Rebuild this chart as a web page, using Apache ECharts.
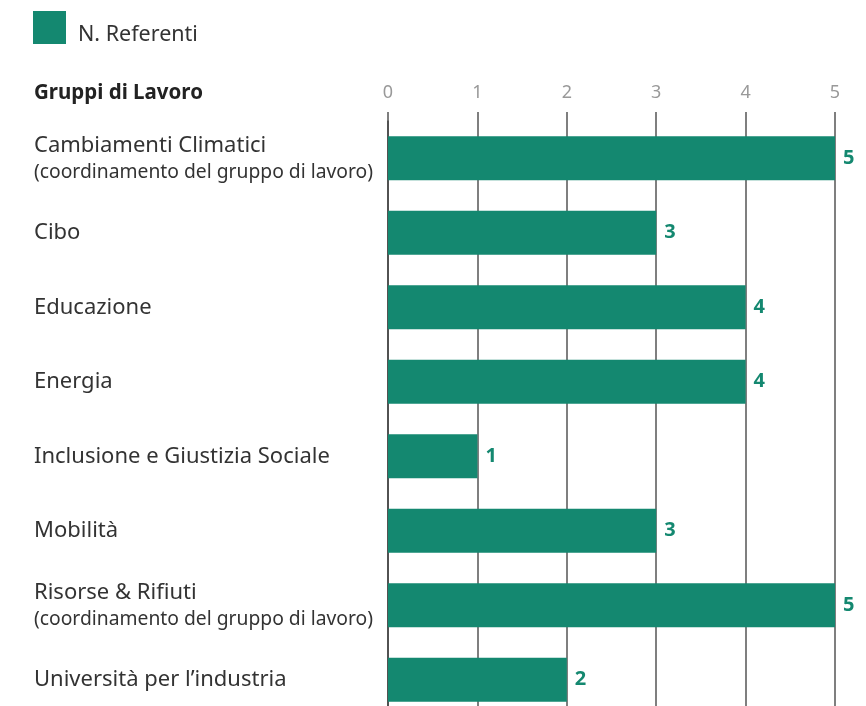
<!DOCTYPE html>
<html>
<head>
<meta charset="utf-8">
<script src="https://cdn.jsdelivr.net/npm/echarts@6/dist/echarts.min.js"></script>
<style>
  html, body { margin: 0; padding: 0; background: #fff; }
  #chart { width: 866px; height: 706px; }
</style>
</head>
<body>
<div id="chart"></div>
<script>
const groups = [
  'Cambiamenti Climatici\n(coordinamento del gruppo di lavoro)',
  'Cibo',
  'Educazione',
  'Energia',
  'Inclusione e Giustizia Sociale',
  'Mobilità',
  'Risorse & Rifiuti\n(coordinamento del gruppo di lavoro)',
  'Università per l’industria'
];
const referenti = [5, 3, 4, 4, 1, 3, 5, 2];
const ticks = [0, 1, 2, 3, 4, 5];

const green = '#148870';
const font = '"Noto Sans", sans-serif';

const chart = echarts.init(document.getElementById('chart'));

const fmtLabel = (v) => {
  const parts = v.split('\n');
  if (parts.length === 1) return '{main|' + parts[0] + '}';
  return '{main|' + parts[0] + '}\n{sub|' + parts[1] + '}';
};

chart.setOption({
  animation: false,
  textStyle: { fontFamily: font },
  legend: {
    left: 28,
    top: 6,
    itemWidth: 33,
    itemHeight: 33,
    itemGap: 10,
    icon: 'rect',
    formatter: (name) => '{a|' + name + '}',
    textStyle: {
      rich: {
        a: {
          fontSize: 21.5, color: '#333', fontFamily: font,
          lineHeight: 37, verticalAlign: 'bottom', padding: [0, 0, 0, 7]
        }
      }
    }
  },
  title: {
    text: 'Gruppi di Lavoro',
    left: 29,
    top: 78,
    textStyle: { fontSize: 20.5, fontWeight: 'bold', color: '#222', fontFamily: font }
  },
  grid: { left: 388, right: 31, top: 121, height: 596, outerBoundsMode: 'none' },
  xAxis: {
    type: 'value',
    position: 'top',
    min: ticks[0],
    max: ticks[ticks.length - 1],
    interval: 1,
    axisLine: { show: false },
    axisTick: { show: true, length: 9, lineStyle: { color: '#555', width: 1.5 } },
    axisLabel: { margin: 19, fontSize: 18, color: '#999', fontFamily: font },
    splitLine: { show: true, lineStyle: { color: '#555', width: 1.5 } }
  },
  yAxis: {
    type: 'category',
    inverse: true,
    data: groups,
    axisLine: { show: true, lineStyle: { color: '#444', width: 1.5 } },
    axisTick: { show: false },
    axisLabel: {
      align: 'left',
      margin: 354,
      formatter: fmtLabel,
      rich: {
        main: { fontSize: 22, color: '#333', fontFamily: font, lineHeight: 28 },
        sub: { fontSize: 19.3, color: '#333', fontFamily: font, lineHeight: 26 }
      }
    }
  },
  series: [{
    name: 'N. Referenti',
    type: 'bar',
    data: referenti,
    barWidth: 44,
    itemStyle: { color: green },
    label: {
      show: true,
      position: 'right',
      distance: 8,
      fontSize: 20,
      fontWeight: 'bold',
      color: green,
      fontFamily: font
    }
  }]
});
</script>
</body>
</html>
